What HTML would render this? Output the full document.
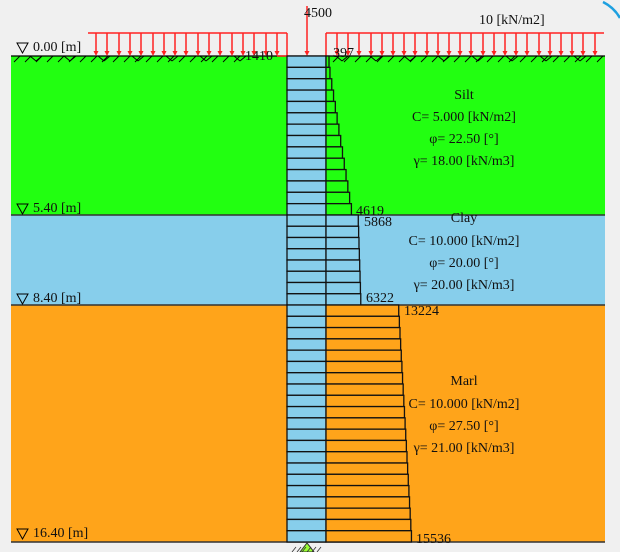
<!DOCTYPE html><html><head><style>html,body{margin:0;padding:0;background:#f0f0f0;}svg{display:block}text{font-family:"Liberation Serif",serif;font-size:14px;fill:#111}</style></head><body>
<svg id="s" width="620" height="552" xmlns="http://www.w3.org/2000/svg">
<path d="M603 2 A40 40 0 0 1 620 18" stroke="#1ea0e0" stroke-width="2.5" fill="none"/>
<rect x="11" y="56" width="594" height="159" fill="#22ff11"/>
<rect x="11" y="215" width="594" height="90" fill="#87ceeb"/>
<rect x="11" y="305" width="594" height="237" fill="#ffa41a"/>
<line x1="11" y1="215" x2="605" y2="215" stroke="#333" stroke-width="1.5"/>
<line x1="11" y1="305" x2="605" y2="305" stroke="#333" stroke-width="1.5"/>
<line x1="11" y1="542" x2="605" y2="542" stroke="#333" stroke-width="1.5"/>
<line x1="11" y1="56" x2="605" y2="56" stroke="#000" stroke-width="1.2"/>
<g id="g"></g>
<text x="33" y="51">0.00 [m]</text>
<text x="33" y="212">5.40 [m]</text>
<text x="33" y="302">8.40 [m]</text>
<text x="33" y="537">16.40 [m]</text>
<path d="M17 43h11l-5.5 10z M17 204h11l-5.5 10z M17 294h11l-5.5 10z M17 529h11l-5.5 10z" fill="none" stroke="#000"/>
<text x="304" y="17">4500</text>
<text x="479" y="24">10 [kN/m2]</text>
<text x="245" y="60">1410</text>
<text x="333" y="57">397</text>
<text x="356" y="215">4619</text>
<text x="364" y="226">5868</text>
<text x="366" y="302">6322</text>
<text x="404" y="315">13224</text>
<text x="416" y="543">15536</text>
<g text-anchor="middle">
<text x="464" y="99">Silt</text><text x="464" y="121">C= 5.000 [kN/m2]</text><text x="464" y="143">φ= 22.50 [°]</text><text x="464" y="165">γ= 18.00 [kN/m3]</text>
<text x="464" y="222">Clay</text><text x="464" y="245">C= 10.000 [kN/m2]</text><text x="464" y="267">φ= 20.00 [°]</text><text x="464" y="289">γ= 20.00 [kN/m3]</text>
<text x="464" y="385">Marl</text><text x="464" y="408">C= 10.000 [kN/m2]</text><text x="464" y="430">φ= 27.50 [°]</text><text x="464" y="452">γ= 21.00 [kN/m3]</text>
</g>
</svg>
<script>
var g=document.getElementById('g'),h='';
function L(a,b,c,d,col,w){h+='<line x1="'+a+'" y1="'+b+'" x2="'+c+'" y2="'+d+'" stroke="'+col+'" stroke-width="'+(w||1)+'"/>';}
for(var x=14;x<600;x+=11){ if(x>236&&x<330)continue; L(x,62,x+6,56,'#000',0.9);}
for(var x=30;x<600;x+=34){ if(x>236&&x<330)continue; L(x,56,x+6,61,'#000',0.9);L(x+6,61,x+12,56,'#000',0.9);}
L(88,33,287,33,'#f22',1.5);L(287,33,287,56,'#f22',1.5);L(277,56,287,56,'#f22',1.5);
L(326,33,604,33,'#f22',1.5);L(326,33,326,56,'#f22',1.5);
function arr(x,y1,y2){L(x,y1,x,y2-4,'#f22',1.5);h+='<path d="M'+(x-2.5)+' '+(y2-5)+'h5l-2.5 5z" fill="#f22"/>';}
for(var x=96;x<280;x+=11.3)arr(Math.round(x),33,56);
for(var x=337;x<604;x+=11.2)arr(Math.round(x),33,56);
arr(307,6,56);
var segs=[[56,215,14,397,4619,'#22ff11'],[215,305,8,5868,6322,'#87ceeb'],[305,542,21,13224,15536,'#ffa41a']];
var k=0.0055;
segs.forEach(function(s){var n=s[2],dh=(s[1]-s[0])/n;for(var i=0;i<n;i++){var y=s[0]+i*dh,v=s[3]+(s[4]-s[3])*i/(n-1);var w=Math.max(3,v*k);
h+='<rect x="287" y="'+y+'" width="39" height="'+dh+'" fill="#87ceeb" stroke="#111" stroke-width="1.3"/>';
h+='<rect x="326" y="'+y+'" width="'+w+'" height="'+dh+'" fill="'+s[5]+'" stroke="#111" stroke-width="1.3"/>';}});
h+='<path d="M300 552l7-9l7 9z" fill="#9f3" stroke="#333"/>';
for(var x=292;x<322;x+=5)L(x,552,x+4,547,'#333',0.8);
g.innerHTML=h;
</script>
</body></html>
